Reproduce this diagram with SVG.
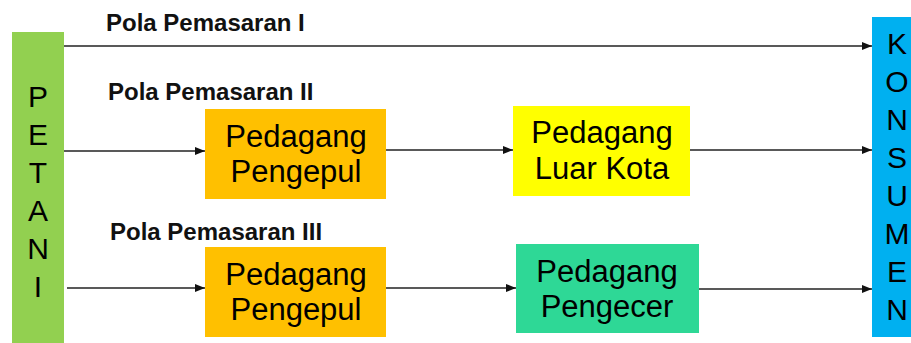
<svg xmlns="http://www.w3.org/2000/svg" width="911" height="343" viewBox="0 0 911 343">
  <style>
    .lbl { font-family: "Liberation Sans", Arial, sans-serif; font-weight: bold; font-size: 24px; fill: #111; }
    .box-text { font-family: "Liberation Sans", Arial, sans-serif; font-size: 31px; fill: #000; text-anchor: middle; }
    .vert { font-family: "Liberation Sans", Arial, sans-serif; font-size: 30px; fill: #000; text-anchor: middle; }
    .conn { stroke: #222; stroke-width: 1.4; fill: none; marker-end: url(#arrow); }
  </style>
  <defs>
    <marker id="arrow" markerWidth="10" markerHeight="8" refX="10" refY="4" orient="auto" markerUnits="userSpaceOnUse">
      <path d="M0,0 L10,4 L0,8 Z" fill="#111"/>
    </marker>
  </defs>
  <rect width="911" height="343" fill="#fff"/>

  <!-- pattern labels -->
  <text class="lbl" x="106" y="31">Pola Pemasaran I</text>
  <text class="lbl" x="108" y="100">Pola Pemasaran II</text>
  <text class="lbl" x="110" y="240">Pola Pemasaran III</text>

  <!-- producer column -->
  <g id="petani">
    <rect x="12" y="32" width="52" height="311" fill="#92D050"/>
    <text class="vert" x="38" y="107">P</text>
    <text class="vert" x="38" y="145">E</text>
    <text class="vert" x="38" y="183">T</text>
    <text class="vert" x="38" y="221">A</text>
    <text class="vert" x="38" y="259">N</text>
    <text class="vert" x="38" y="297">I</text>
  </g>

  <!-- consumer column -->
  <g id="konsumen">
    <rect x="872" y="17" width="39" height="320" fill="#00B0F0"/>
    <text class="vert" x="897" y="54">K</text>
    <text class="vert" x="897" y="92">O</text>
    <text class="vert" x="897" y="130">N</text>
    <text class="vert" x="897" y="168">S</text>
    <text class="vert" x="897" y="206">U</text>
    <text class="vert" x="897" y="244">M</text>
    <text class="vert" x="897" y="282">E</text>
    <text class="vert" x="897" y="320">N</text>
  </g>

  <g id="pengepul-2">
    <rect x="205" y="109" width="181" height="90" fill="#FFC000"/>
    <text class="box-text" x="296" y="147">Pedagang</text>
    <text class="box-text" x="296" y="182">Pengepul</text>
  </g>

  <g id="luar-kota">
    <rect x="513" y="106" width="177" height="90" fill="#FFFF00"/>
    <text class="box-text" x="602" y="143">Pedagang</text>
    <text class="box-text" x="602" y="179">Luar Kota</text>
  </g>

  <g id="pengepul-3">
    <rect x="205" y="247" width="181" height="90" fill="#FFC000"/>
    <text class="box-text" x="296" y="285">Pedagang</text>
    <text class="box-text" x="296" y="320">Pengepul</text>
  </g>

  <g id="pengecer">
    <rect x="516" y="244" width="183" height="89" fill="#2ED896"/>
    <text class="box-text" x="607" y="282">Pedagang</text>
    <text class="box-text" x="607" y="317">Pengecer</text>
  </g>

  <g id="connectors">
    <line class="conn" x1="64" y1="46" x2="872" y2="46"/>
    <line class="conn" x1="64" y1="151" x2="205" y2="151"/>
    <line class="conn" x1="386" y1="150" x2="513" y2="150"/>
    <line class="conn" x1="690" y1="150" x2="872" y2="150"/>
    <line class="conn" x1="67" y1="288" x2="205" y2="288"/>
    <line class="conn" x1="386" y1="288" x2="516" y2="288"/>
    <line class="conn" x1="699" y1="289" x2="872" y2="289"/>
  </g>
</svg>
